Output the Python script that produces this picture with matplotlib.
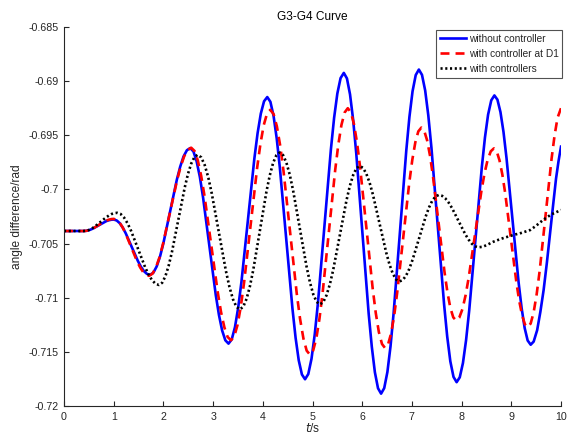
import matplotlib
matplotlib.use("Agg")
import matplotlib.pyplot as plt

# ---- data ----
t_b = [0, 0.2, 0.4,
       0.45, 0.5, 0.55, 0.6, 0.7, 0.8, 0.85, 0.9, 0.95, 1.0,
       1.061, 1.122, 1.183, 1.243, 1.365, 1.487, 1.548, 1.609, 1.669, 1.73,
       1.798, 1.865, 1.933, 2.0, 2.135, 2.27, 2.338, 2.405, 2.473, 2.54,
       2.604, 2.668, 2.733, 2.797, 2.925, 3.053, 3.118, 3.182, 3.246, 3.31,
       3.375, 3.44, 3.505, 3.57, 3.70, 3.83, 3.895, 3.96, 4.025, 4.09,
       4.153, 4.217, 4.28, 4.343, 4.47, 4.597, 4.66, 4.723, 4.787, 4.85,
       4.915, 4.98, 5.045, 5.11, 5.24, 5.37, 5.435, 5.50, 5.565, 5.63,
       5.693, 5.755, 5.818, 5.88, 6.005, 6.13, 6.193, 6.255, 6.318, 6.38,
       6.443, 6.507, 6.57, 6.633, 6.76, 6.887, 6.95, 7.013, 7.077, 7.14,
       7.203, 7.267, 7.33, 7.393, 7.52, 7.647, 7.71, 7.773, 7.837, 7.90,
       7.963, 8.027, 8.09, 8.153, 8.28, 8.407, 8.47, 8.533, 8.597, 8.66,
       8.721, 8.782, 8.843, 8.903, 9.025, 9.147, 9.208, 9.269, 9.329, 9.39,
       9.45, 9.52, 9.585, 9.65, 9.715, 9.78, 9.84, 9.9, 9.95, 10.0]
v_b = [-0.70384, -0.70384, -0.70384,
       -0.70382, -0.70377, -0.70368, -0.70357, -0.70331, -0.70304, -0.70293, -0.70285, -0.7028, -0.70278,
       -0.70287, -0.70312, -0.70353, -0.70406, -0.70534, -0.70661, -0.70714, -0.70755, -0.7078, -0.70789,
       -0.70769, -0.70711, -0.70618, -0.70496, -0.70204, -0.69911, -0.6979, -0.69696, -0.69638, -0.69618,
       -0.69649, -0.69739, -0.69883, -0.7007, -0.70521, -0.70973, -0.7116, -0.71303, -0.71393, -0.71424,
       -0.71385, -0.71272, -0.71091, -0.70855, -0.70286, -0.69716, -0.69481, -0.693, -0.69186, -0.69147,
       -0.69191, -0.69322, -0.69529, -0.69799, -0.7045, -0.71102, -0.71371, -0.71578, -0.71709, -0.71753,
       -0.71705, -0.71564, -0.71339, -0.71046, -0.70339, -0.69631, -0.69338, -0.69114, -0.68972, -0.68924,
       -0.68975, -0.69122, -0.69358, -0.69665, -0.70405, -0.71146, -0.71452, -0.71688, -0.71836, -0.71886,
       -0.71835, -0.71686, -0.71448, -0.71138, -0.7039, -0.69641, -0.69331, -0.69094, -0.68944, -0.68893,
       -0.68942, -0.69086, -0.69316, -0.69615, -0.70337, -0.71058, -0.71357, -0.71587, -0.71731, -0.7178,
       -0.71735, -0.71603, -0.71392, -0.71118, -0.70456, -0.69794, -0.6952, -0.69309, -0.69177, -0.69132,
       -0.69171, -0.69286, -0.69469, -0.69708, -0.70283, -0.70859, -0.71097, -0.7128, -0.71395, -0.71434,
       -0.71405, -0.7130, -0.7113, -0.7093, -0.7068, -0.7040, -0.7015, -0.6990, -0.6974, -0.69605]

t_r = [0, 0.2, 0.4,
       0.45, 0.5, 0.55, 0.6, 0.7, 0.8, 0.85, 0.9, 0.95, 1.0,
       1.059, 1.118, 1.178, 1.237, 1.355, 1.473, 1.533, 1.592, 1.651, 1.71,
       1.781, 1.852, 1.923, 1.993, 2.135, 2.277, 2.348, 2.418, 2.489, 2.56,
       2.627, 2.693, 2.76, 2.827, 2.96, 3.093, 3.16, 3.227, 3.293, 3.36,
       3.426, 3.492, 3.558, 3.623, 3.755, 3.887, 3.953, 4.018, 4.084, 4.15,
       4.217, 4.283, 4.35, 4.417, 4.55, 4.683, 4.75, 4.817, 4.883, 4.95,
       5.013, 5.077, 5.14, 5.203, 5.33, 5.457, 5.52, 5.583, 5.647, 5.71,
       5.773, 5.835, 5.898, 5.96, 6.085, 6.21, 6.273, 6.335, 6.398, 6.46,
       6.521, 6.582, 6.643, 6.703, 6.825, 6.947, 7.008, 7.069, 7.129, 7.19,
       7.248, 7.307, 7.365, 7.423, 7.54, 7.657, 7.715, 7.773, 7.832, 7.89,
       7.953, 8.017, 8.08, 8.143, 8.27, 8.397, 8.46, 8.523, 8.587, 8.65,
       8.707, 8.763, 8.82, 8.877, 8.99, 9.103, 9.16, 9.217, 9.273, 9.33,
       9.39, 9.45, 9.51, 9.57, 9.69, 9.81, 9.87, 9.93, 10.0]
v_r = [-0.70384, -0.70384, -0.70384,
       -0.70382, -0.70377, -0.70368, -0.70356, -0.70328, -0.703, -0.70288, -0.7028, -0.70274, -0.70272,
       -0.70281, -0.70307, -0.70349, -0.70404, -0.70535, -0.70667, -0.70721, -0.70763, -0.70789, -0.70798,
       -0.70778, -0.70719, -0.70625, -0.70502, -0.70207, -0.69911, -0.69788, -0.69694, -0.69635, -0.69615,
       -0.69645, -0.69734, -0.69875, -0.7006, -0.70504, -0.70949, -0.71133, -0.71274, -0.71363, -0.71393,
       -0.71357, -0.7125, -0.71081, -0.70861, -0.70329, -0.69797, -0.69577, -0.69408, -0.69301, -0.69265,
       -0.69304, -0.69417, -0.69596, -0.69831, -0.70396, -0.70962, -0.71196, -0.71376, -0.71489, -0.71527,
       -0.71488, -0.71375, -0.71194, -0.70958, -0.70389, -0.69819, -0.69584, -0.69403, -0.69289, -0.6925,
       -0.69288, -0.69398, -0.69574, -0.69804, -0.70358, -0.70911, -0.71141, -0.71317, -0.71427, -0.71465,
       -0.7143, -0.71329, -0.71167, -0.70956, -0.70447, -0.69938, -0.69727, -0.69565, -0.69464, -0.69429,
       -0.69459, -0.69548, -0.6969, -0.69875, -0.7032, -0.70766, -0.7095, -0.71092, -0.71181, -0.71211,
       -0.71184, -0.71105, -0.70978, -0.70814, -0.70416, -0.70019, -0.69854, -0.69728, -0.69648, -0.69621,
       -0.69649, -0.69732, -0.69863, -0.70034, -0.70447, -0.7086, -0.71031, -0.71162, -0.71245, -0.71273,
       -0.71238, -0.71134, -0.70969, -0.70755, -0.70237, -0.69718, -0.69504, -0.69339, -0.6925]

t_k = [0, 0.2, 0.4,
       0.456, 0.512, 0.568, 0.623, 0.735, 0.847, 0.903, 0.958, 1.014, 1.07,
       1.14, 1.21, 1.28, 1.35, 1.49, 1.63, 1.70, 1.77, 1.84, 1.91,
       1.975, 2.04, 2.105, 2.17, 2.30, 2.43, 2.495, 2.56, 2.625, 2.69,
       2.761, 2.832, 2.903, 2.973, 3.115, 3.257, 3.328, 3.398, 3.469, 3.54,
       3.607, 3.673, 3.74, 3.807, 3.94, 4.073, 4.14, 4.207, 4.273, 4.34,
       4.408, 4.475, 4.543, 4.61, 4.745, 4.88, 4.948, 5.015, 5.083, 5.15,
       5.217, 5.283, 5.35, 5.417, 5.55, 5.683, 5.75, 5.817, 5.883, 5.95,
       6.017, 6.083, 6.15, 6.217, 6.35, 6.483, 6.55, 6.617, 6.683, 6.75,
       6.816, 6.882, 6.948, 7.013, 7.145, 7.277, 7.343, 7.408, 7.474, 7.54,
       7.607, 7.673, 7.74, 7.807, 7.94, 8.073, 8.14, 8.207, 8.273, 8.34,
       8.42, 8.5, 8.64, 8.8, 9.04, 9.2, 9.38, 9.5, 9.64, 9.8, 10.0]
v_k = [-0.70384, -0.70384, -0.70384,
       -0.70381, -0.70373, -0.70359, -0.70342, -0.703, -0.70258, -0.70241, -0.70227, -0.70219, -0.70216,
       -0.70227, -0.70261, -0.70314, -0.70383, -0.70549, -0.70716, -0.70785, -0.70837, -0.70871, -0.70882,
       -0.70862, -0.70802, -0.70706, -0.70582, -0.70281, -0.69981, -0.69856, -0.69761, -0.69701, -0.6968,
       -0.69704, -0.69776, -0.69889, -0.70037, -0.70394, -0.70751, -0.70899, -0.71012, -0.71084, -0.71108,
       -0.71083, -0.71011, -0.70896, -0.70746, -0.70384, -0.70021, -0.69871, -0.69756, -0.69684, -0.69659,
       -0.69683, -0.69753, -0.69865, -0.7001, -0.70361, -0.70711, -0.70857, -0.70968, -0.71038, -0.71062,
       -0.7104, -0.70976, -0.70875, -0.70742, -0.70423, -0.70103, -0.6997, -0.69869, -0.69805, -0.69783,
       -0.69801, -0.69855, -0.69939, -0.7005, -0.70317, -0.70583, -0.70694, -0.70779, -0.70832, -0.7085,
       -0.70836, -0.70797, -0.70733, -0.7065, -0.70451, -0.70251, -0.70168, -0.70105, -0.70065, -0.70051,
       -0.70059, -0.70083, -0.70122, -0.70172, -0.70293, -0.70413, -0.70463, -0.70502, -0.70526, -0.70534,
       -0.7053, -0.70515, -0.70483, -0.70455, -0.70421, -0.70402, -0.70375, -0.70335, -0.70282, -0.70232, -0.7019]

labels = ["without controller", "with controller at D1", "with controllers"]
x_ticks = [0, 1, 2, 3, 4, 5, 6, 7, 8, 9, 10]
y_ticks = [-0.72, -0.715, -0.71, -0.705, -0.7, -0.695, -0.69, -0.685]
y_tick_labels = ["-0.72", "-0.715", "-0.71", "-0.705", "-0.7", "-0.695", "-0.69", "-0.685"]

# ---- figure ----
plt.rcParams['font.family'] = ['Liberation Sans', 'DejaVu Sans']
dark = '#262626'
fig = plt.figure(figsize=(5.67, 4.36), dpi=100)
ax = fig.add_axes([64/567, 30/436, (561-64)/567, (406-27)/436])

ax.plot(t_b, v_b, color='#0000ff', lw=1.9, label=labels[0])
ax.plot(t_r, v_r, color='#ff0000', lw=1.9, linestyle=(0, (3.4, 2.3)), label=labels[1])
ax.plot(t_k, v_k, color='black', lw=1.9, linestyle=(0, (0.8, 1.0)), label=labels[2])

ax.set_xlim(0, 10)
ax.set_ylim(-0.72, -0.685)
ax.set_xticks(x_ticks)
ax.set_xticklabels([str(v) for v in x_ticks])
ax.set_yticks(y_ticks)
ax.set_yticklabels(y_tick_labels)

for s in ['top', 'right']:
    ax.spines[s].set_visible(False)
for s in ['left', 'bottom']:
    ax.spines[s].set_color(dark)
    ax.spines[s].set_linewidth(0.8)
ax.tick_params(direction='in', length=3.5, width=0.8, color=dark,
               labelsize=7.7, labelcolor=dark, pad=4)

ax.set_title("G3-G4 Curve", fontsize=8.6, color='black', pad=5)
ax.set_xlabel(r"$\it{t}$/s", fontsize=8.6, color=dark, labelpad=0.5)
ax.set_ylabel("angle difference/rad", fontsize=8.6, color=dark, labelpad=4)

leg = ax.legend(loc='upper right', bbox_to_anchor=(1.003, 0.993), fontsize=7.3,
                frameon=True, fancybox=False, borderaxespad=0.0,
                handlelength=2.6, handletextpad=0.25, borderpad=0.4,
                labelspacing=0.5)
leg.get_frame().set_edgecolor(dark)
leg.get_frame().set_linewidth(0.8)
for txt in leg.get_texts():
    txt.set_color(dark)

fig.savefig("out.png", dpi=100)
